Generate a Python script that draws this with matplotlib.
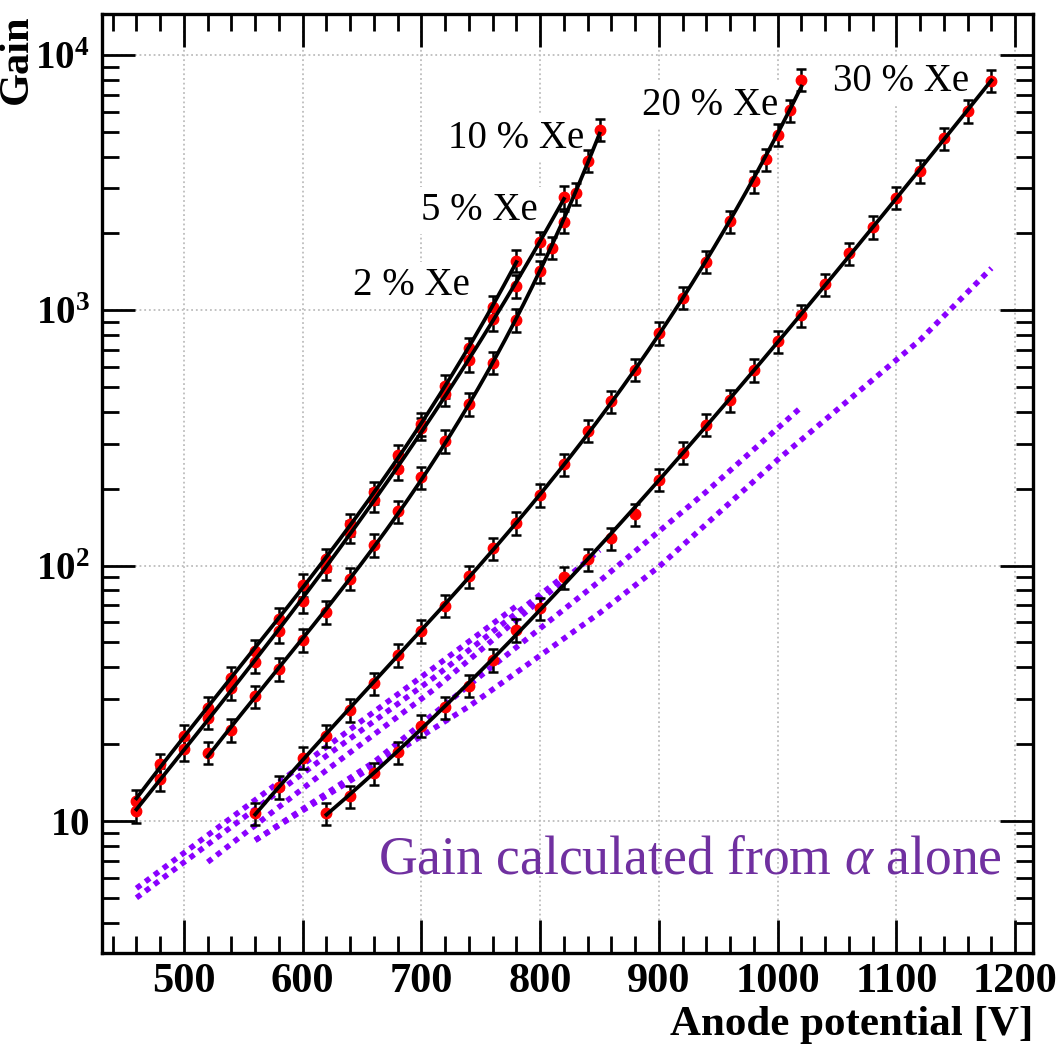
import numpy as np
import matplotlib.pyplot as plt
from matplotlib.ticker import FixedLocator, MultipleLocator, NullFormatter

plt.rcParams['font.family'] = 'Liberation Serif'
plt.rcParams['mathtext.fontset'] = 'custom'
plt.rcParams['mathtext.rm'] = 'Liberation Serif'
plt.rcParams['mathtext.it'] = 'Liberation Serif:italic'
plt.rcParams['mathtext.bf'] = 'Liberation Serif:bold'

v_2 = [460, 480, 500, 520, 540, 560, 580, 600, 620, 640, 660, 680, 700, 720, 740, 760, 780]
g_2 = [12.0, 16.7, 21.6, 27.8, 36.4, 46.5, 62, 84, 106, 145, 194, 270, 359, 505, 710, 1033, 1564]

v_5 = [460, 480, 500, 520, 540, 560, 580, 600, 620, 640, 660, 680, 700, 720, 740, 760, 780, 800, 820]
g_5 = [10.9, 14.6, 19.1, 25.4, 33.2, 42.1, 55.3, 72.8, 97.5, 136, 181, 240, 345, 469, 638, 922, 1245, 1850, 2780]

v_10 = [520, 540, 560, 580, 600, 620, 640, 660, 680, 700, 720, 740, 760, 780, 800, 810, 820, 830, 840, 850]
g_10 = [18.5, 22.7, 30.8, 39.4, 51.2, 65.9, 89, 120.5, 163, 222, 308, 430, 624, 916, 1420, 1760, 2225, 2870, 3860, 5100]

v_20 = [560, 580, 600, 620, 640, 660, 680, 700, 720, 740, 760, 780, 800, 820, 840, 860, 880, 900,
        920, 940, 960, 980, 990, 1000, 1010, 1020]
g_20 = [10.7, 13.6, 17.7, 21.6, 27.2, 34.6, 44.7, 55.5, 69.7, 91, 117, 147, 189, 249, 338, 440, 585, 815,
        1120, 1550, 2230, 3200, 3900, 4880, 6070, 8000]

v_30 = [620, 640, 660, 680, 700, 720, 740, 760, 780, 800, 820, 840, 860, 880, 900, 920, 940, 960, 980,
        1000, 1020, 1040, 1060, 1080, 1100, 1120, 1140, 1160, 1180]
g_30 = [10.7, 12.5, 15.4, 18.6, 23.6, 27.9, 33.9, 42.7, 56, 68, 90, 106, 128, 159, 217, 277, 357, 445, 584,
        756, 956, 1265, 1673, 2123, 2760, 3514, 4720, 6040, 7930]

# gain from alpha alone (dotted curves)
va_2 = [460, 620, 710, 780]
ga_2 = [5.45, 19.5, 39.7, 69.5]
va_5 = [460, 620, 710, 820]
ga_5 = [5.0, 18.0, 36.3, 91]
va_10 = [520, 620, 710, 850]
ga_10 = [6.9, 15.8, 32.6, 115]
va_20 = [560, 660, 760, 850, 940, 1020]
ga_20 = [8.4, 17.0, 40.4, 87, 195, 418]
va_30 = [560, 740, 850, 900, 1000, 1120, 1180]
ga_30 = [8.4, 28.1, 65.2, 99, 260, 766, 1462]

labels = ['2 % Xe', '5 % Xe', '10 % Xe', '20 % Xe', '30 % Xe']
label_pos = [(353, 295), (421, 220), (448, 148), (642, 115), (833, 91)]  # pixel, left/baseline

W, H = 1060, 1058
fig = plt.figure(figsize=(W / 100, H / 100), dpi=100)
ax = fig.add_axes([102 / W, 1 - 953 / H, (1033 - 102) / W, (953 - 14) / H])
ax.set_yscale('log')
ax.set_xlim(431, 1215)
ax.set_ylim(3.04, 14470)

# alpha-only curves
for v, g in [(va_2, ga_2), (va_5, ga_5), (va_10, ga_10), (va_20, ga_20), (va_30, ga_30)]:
    ax.plot(v, g, color='#8a00ff', lw=4.0, linestyle=(0, (1, 1.0)), zorder=2)

# measured points + fits
for v, g in [(v_2, g_2), (v_5, g_5), (v_10, g_10), (v_20, g_20), (v_30, g_30)]:
    v = np.array(v, dtype=float)
    g = np.array(g, dtype=float)
    ax.errorbar(v, g, yerr=0.1 * g, fmt='o', ms=7.5, mfc='red', mec='red', ecolor='black',
                elinewidth=1.8, capsize=3.8, capthick=1.8, zorder=4)
    c = np.polyfit(v, np.log10(g), 3)
    vv = np.linspace(v[0], v[-1], 300)
    ax.plot(vv, 10 ** np.polyval(c, vv), color='black', lw=2.7, zorder=5)

for txt, (xp, yp) in zip(labels, label_pos):
    ax.text(xp / W, 1 - yp / H, txt, transform=fig.transFigure, fontsize=28, ha='left', va='baseline',
            zorder=1.5, bbox=dict(boxstyle='square,pad=0.12', facecolor='white', edgecolor='none'))

ax.text(378 / W, 1 - 873 / H, r'Gain calculated from $\alpha$ alone', transform=fig.transFigure,
        fontsize=38.6, color='#7030a0', ha='left', va='baseline', zorder=6)

# axes styling (ROOT-like)
ax.xaxis.set_major_locator(MultipleLocator(100))
ax.xaxis.set_minor_locator(MultipleLocator(20))
ax.yaxis.set_major_locator(FixedLocator([10, 100, 1000, 10000]))
ax.yaxis.set_minor_locator(FixedLocator([m * 10 ** e for e in range(0, 4) for m in range(2, 10)]))
ax.yaxis.set_minor_formatter(NullFormatter())
ax.set_yticklabels([r'$\mathbf{10}$', r'$\mathbf{10^{2}}$', r'$\mathbf{10^{3}}$', r'$\mathbf{10^{4}}$'])
for lab in ax.get_xticklabels():
    lab.set_fontweight('bold')

ax.tick_params(which='major', direction='in', length=23.8, width=2.0, top=True, right=True)
ax.tick_params(which='minor', direction='in', length=12.2, width=2.0, top=True, right=True)
ax.tick_params(axis='x', which='major', pad=7, labelsize=30.5)
ax.tick_params(axis='y', which='major', pad=9, labelsize=28)
for s in ax.spines.values():
    s.set_linewidth(2.4)

ax.set_axisbelow(True)
ax.grid(True, which='major', color='#bdbdbd', linestyle=(0, (1, 1.6)), lw=1.3)

fig.text(1033 / W, 1 - 1035 / H, 'Anode potential [V]', fontsize=31, fontweight='bold',
         ha='right', va='baseline')
fig.text(17 / W, 1 - 14 / H, 'Gain', fontsize=30.5, fontweight='bold', rotation=90,
         ha='center', va='top')

fig.savefig('out.png', dpi=100)
